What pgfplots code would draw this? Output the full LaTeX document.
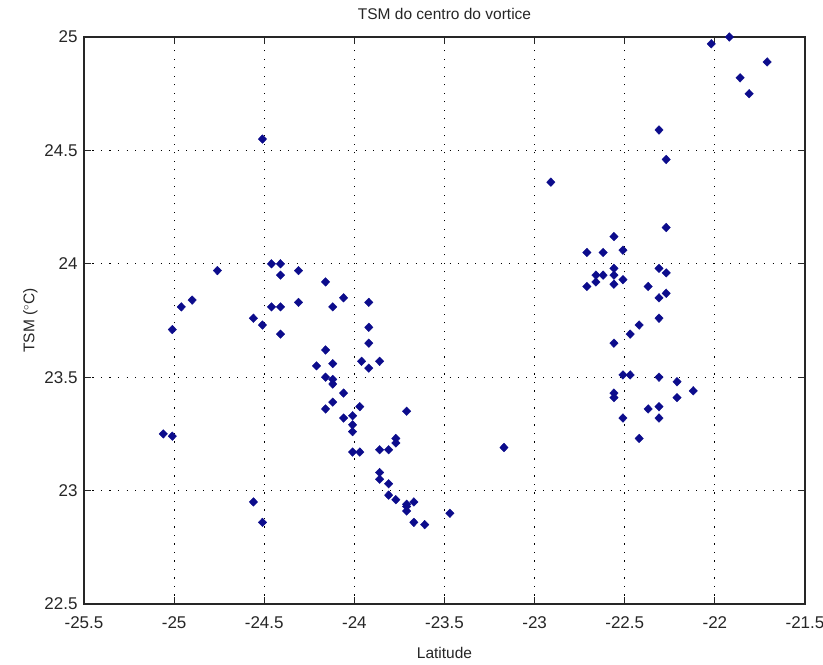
\documentclass[border=0pt]{standalone}
\usepackage{pgfplots}
\pgfplotsset{compat=1.18}
\usepackage{fontspec}
\setmainfont{Liberation Sans}
\definecolor{mblue}{RGB}{12,12,140}
\begin{document}
\begin{tikzpicture}
\begin{axis}[
  width=721pt, height=567pt, scale only axis,
  xmin=-25.5, xmax=-21.5, ymin=22.5, ymax=25,
  xtick={-25.5,-25,...,-21.5}, ytick={22.5,23,...,25},
  xticklabels={-25.5,-25,-24.5,-24,-23.5,-23,-22.5,-22,-21.5},
  yticklabels={22.5,23,23.5,24,24.5,25},
  tick align=inside, tick pos=both,
  major tick length=7pt,
  grid=major,
  grid style={black, line width=1.1pt, dash pattern=on 1.1pt off 7.4pt},
  axis line style={black!85, line width=1.1pt},
  every tick/.style={black!85, line width=1.1pt},
  tick label style={font=\fontsize{17}{20}\selectfont, text=black!85},
  xticklabel style={yshift=-9pt},
  yticklabel style={xshift=-3pt},
  label style={font=\fontsize{15.5}{18}\selectfont, text=black!85},
  xlabel style={yshift=-12pt},
  title style={font=\fontsize{15.5}{18}\selectfont, text=black!85, yshift=8pt},
  title={TSM do centro do vortice},
  xlabel={Latitude},
  ylabel={TSM ($^{\circ}$C)},
  clip=false,
]
\addplot[only marks, mark=diamond*, mark size=4.3pt, color=mblue, mark options={xscale=1.3, fill=mblue, draw=mblue}] coordinates {
(-24.51,24.55) (-24.46,24.00) (-24.41,24.00) (-24.41,23.95) (-24.31,23.97)
(-24.76,23.97) (-24.16,23.92) (-24.06,23.85) (-24.12,23.81) (-24.96,23.81)
(-24.90,23.84) (-24.46,23.81) (-24.41,23.81) (-24.31,23.83) (-24.56,23.76)
(-25.01,23.71) (-24.51,23.73) (-24.41,23.69) (-24.16,23.62) (-24.21,23.55)
(-24.12,23.56) (-24.16,23.50) (-24.12,23.49) (-24.12,23.47) (-24.06,23.43)
(-24.12,23.39) (-24.16,23.36) (-24.06,23.32) (-24.01,23.33) (-24.01,23.29)
(-24.01,23.26) (-24.01,23.17) (-23.97,23.17) (-23.97,23.37) (-23.96,23.57)
(-25.06,23.25) (-25.01,23.24) (-24.56,22.95) (-24.51,22.86) (-23.92,23.83)
(-23.92,23.72) (-23.92,23.65) (-23.92,23.54) (-23.86,23.57) (-23.71,23.35)
(-23.77,23.23) (-23.77,23.21) (-23.86,23.18) (-23.81,23.18) (-23.86,23.08)
(-23.86,23.05) (-23.81,23.03) (-23.81,22.98) (-23.77,22.96) (-23.71,22.94)
(-23.71,22.93) (-23.71,22.91) (-23.67,22.95) (-23.67,22.86) (-23.61,22.85)
(-23.47,22.90) (-23.17,23.19) (-22.91,24.36)
(-22.02,24.97) (-21.92,25.00) (-21.71,24.89) (-21.86,24.82) (-21.81,24.75)
(-22.31,24.59) (-22.27,24.46) (-22.27,24.16) (-22.56,24.12) (-22.71,24.05)
(-22.62,24.05) (-22.51,24.06) (-22.31,23.98) (-22.27,23.96) (-22.66,23.95)
(-22.62,23.95) (-22.56,23.98) (-22.56,23.95) (-22.51,23.93) (-22.56,23.91)
(-22.71,23.90) (-22.37,23.90) (-22.66,23.92) (-22.31,23.85) (-22.27,23.87)
(-22.31,23.76) (-22.42,23.73) (-22.47,23.69) (-22.56,23.65) (-22.51,23.51)
(-22.47,23.51) (-22.31,23.50) (-22.21,23.48) (-22.12,23.44) (-22.21,23.41)
(-22.56,23.43) (-22.56,23.41) (-22.37,23.36) (-22.31,23.37) (-22.31,23.32)
(-22.51,23.32) (-22.42,23.23)
};
\end{axis}
\pgfresetboundingbox
\useasboundingbox ([shift={(-84pt,-60pt)}]current axis.south west) rectangle ([shift={(18pt,37pt)}]current axis.north east);
\end{tikzpicture}
\end{document}
